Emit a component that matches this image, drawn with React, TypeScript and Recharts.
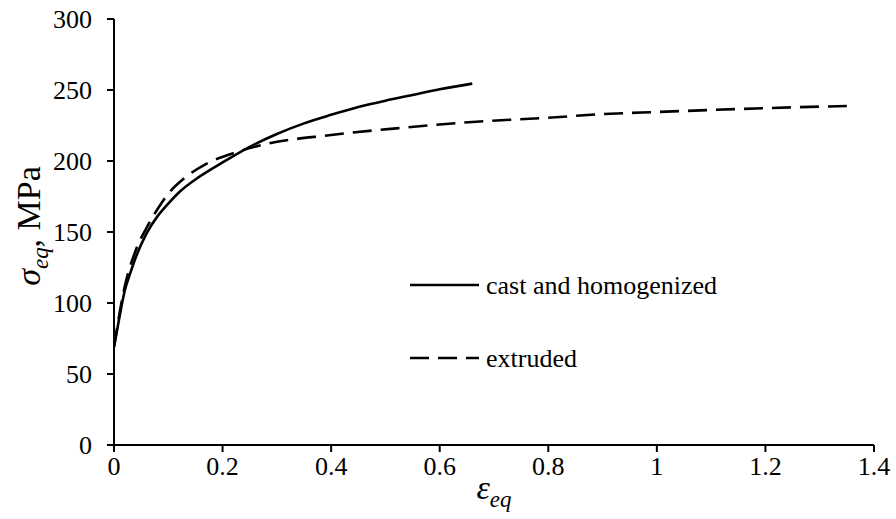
import React from 'react';
import { LineChart, Line, XAxis, YAxis, Label } from 'recharts';

// Equivalent stress-strain flow curves for the two material states.

const FONT = '"Liberation Serif", "Times New Roman", serif';
const INK = '#000000';

const X_TICKS = [0, 0.2, 0.4, 0.6, 0.8, 1, 1.2, 1.4];
const Y_TICKS = [0, 50, 100, 150, 200, 250, 300];

const CAST_STRAIN = [0, 0.01, 0.02, 0.03, 0.04, 0.06, 0.08, 0.1, 0.12, 0.15, 0.2, 0.25, 0.3, 0.35, 0.4, 0.45, 0.5, 0.55, 0.6, 0.66];
const CAST_STRESS = [69, 90, 109, 121, 132, 149, 161, 170, 178, 187, 199, 210, 219, 226.5, 232.5, 238, 242.5, 246.5, 250.5, 254.5];

const EXTRUDED_STRAIN = [0, 0.02, 0.04, 0.06, 0.08, 0.1, 0.13, 0.17, 0.22, 0.275, 0.4, 0.52, 0.66, 0.8, 0.9, 1, 1.15, 1.25, 1.35];
const EXTRUDED_STRESS = [69, 112, 137, 153, 166, 177, 188, 198, 205.5, 211.5, 218.3, 223, 227.5, 230.5, 233, 234.5, 236.6, 237.8, 238.7];

const SERIES_NAMES = ['cast and homogenized', 'extruded'];
const SERIES_DASH = ['0', '19 9'];

const toPoints = (xs: number[], ys: number[]) => xs.map((x, i) => ({ strain: x, stress: ys[i] }));

const castData = toPoints(CAST_STRAIN, CAST_STRESS);
const extrudedData = toPoints(EXTRUDED_STRAIN, EXTRUDED_STRESS);

const TICK_STYLE = { fill: INK, fontSize: 26, fontFamily: FONT };

function YTitle({ viewBox }: any) {
  const cx = viewBox.x + 40;
  const cy = 226;
  return (
    <text
      x={cx}
      y={cy}
      transform={`rotate(-90, ${cx}, ${cy})`}
      textAnchor="middle"
      fontFamily={FONT}
      fontSize={34}
      fill={INK}
    >
      <tspan fontStyle="italic">σ</tspan>
      <tspan fontStyle="italic" fontSize={23} dy={8}>eq</tspan>
      <tspan dy={-8}>, MPa</tspan>
    </text>
  );
}

function XTitle({ viewBox }: any) {
  const cx = viewBox.x + viewBox.width / 2;
  return (
    <text x={cx} y={viewBox.y + 54} textAnchor="middle" fontFamily={FONT} fontSize={34} fill={INK}>
      <tspan fontStyle="italic">ε</tspan>
      <tspan fontStyle="italic" fontSize={23} dy={8}>eq</tspan>
    </text>
  );
}

function LegendBox() {
  const rows = [25, 98];
  return (
    <svg
      width={400}
      height={120}
      style={{ position: 'absolute', left: 400, top: 260, overflow: 'visible' }}
    >
      {SERIES_NAMES.map((name, i) => (
        <g key={name}>
          <line
            x1={10}
            x2={79}
            y1={rows[i]}
            y2={rows[i]}
            stroke={INK}
            strokeWidth={2.6}
            strokeDasharray={SERIES_DASH[i]}
          />
          <text x={86} y={rows[i] + 8.5} fontFamily={FONT} fontSize={26} fill={INK}>
            {name}
          </text>
        </g>
      ))}
    </svg>
  );
}

export default function App() {
  return (
    <div style={{ position: 'absolute', left: 0, top: 0, width: 896, height: 519, background: '#fff' }}>
      <LineChart width={896} height={519} margin={{ top: 19, right: 22, bottom: 0, left: 0 }}>
        <XAxis
          type="number"
          dataKey="strain"
          domain={[0, 1.4]}
          ticks={X_TICKS}
          tick={TICK_STYLE}
          tickSize={7}
          tickMargin={5}
          height={74}
          axisLine={{ stroke: INK, strokeWidth: 2 }}
          tickLine={{ stroke: INK, strokeWidth: 2 }}
          allowDataOverflow
        >
          <Label content={<XTitle />} />
        </XAxis>
        <YAxis
          type="number"
          domain={[0, 300]}
          ticks={Y_TICKS}
          tick={TICK_STYLE}
          tickSize={7}
          tickMargin={15}
          width={114}
          axisLine={{ stroke: INK, strokeWidth: 2 }}
          tickLine={{ stroke: INK, strokeWidth: 2 }}
        >
          <Label content={<YTitle />} />
        </YAxis>
        <Line
          data={castData}
          dataKey="stress"
          type="monotone"
          stroke={INK}
          strokeWidth={2.6}
          dot={false}
          isAnimationActive={false}
        />
        <Line
          data={extrudedData}
          dataKey="stress"
          type="monotone"
          stroke={INK}
          strokeWidth={2.6}
          strokeDasharray="19 9"
          dot={false}
          isAnimationActive={false}
        />
      </LineChart>
      <LegendBox />
    </div>
  );
}
